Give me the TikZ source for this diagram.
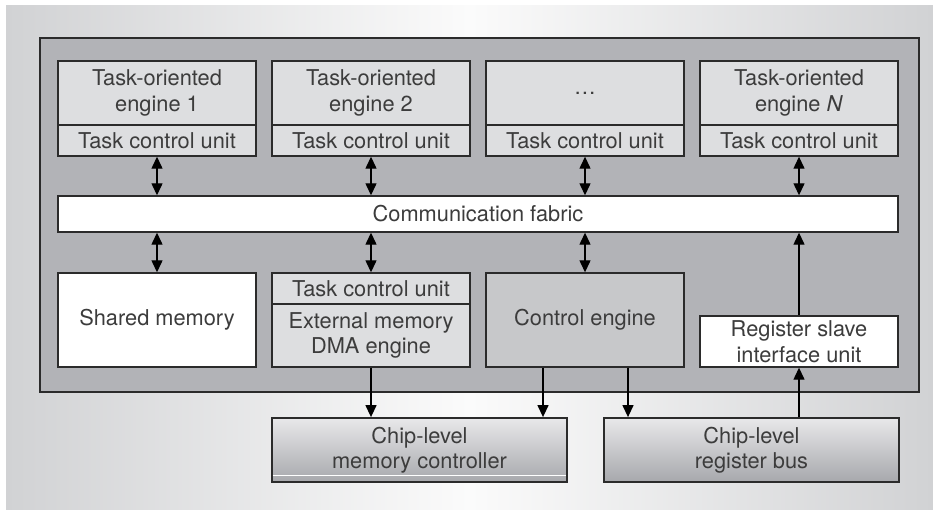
\documentclass[tikz,border=0pt]{standalone}
\usepackage{fontspec}
\setmainfont{TeX Gyre Heros}
\usetikzlibrary{arrows.meta}
\definecolor{bgedge}{HTML}{D1D2D4}
\definecolor{bgmid}{HTML}{FBFBFB}
\definecolor{chipfill}{HTML}{B2B3B7}
\definecolor{lightbox}{HTML}{DDDEE0}
\definecolor{midbox}{HTML}{C7C8CA}
\definecolor{inkline}{HTML}{2B2B2B}
\definecolor{inktext}{HTML}{3C3C3C}
\definecolor{busTop}{HTML}{E8E8EA}
\definecolor{busBot}{HTML}{A7A8AC}
\tikzset{
  unit/.style={draw=inkline, line width=1.4pt, minimum width=198pt, inner sep=0pt,
    align=center, text=inktext, font=\fontsize{21.8}{25.5}\selectfont},
  lightunit/.style={unit, fill=lightbox},
  whiteunit/.style={unit, fill=white},
  bus/.style={unit, minimum width=295pt, minimum height=64pt,
    top color=busTop, bottom color=busBot, line width=1.8pt},
  link/.style={draw=black, line width=1.3pt},
  both/.style={link, {Triangle[length=12pt,width=11pt]}-{Triangle[length=12pt,width=11pt]}},
  one/.style={link, -{Triangle[length=12pt,width=11pt]}},
}
\begin{document}
\begin{tikzpicture}[x=1pt, y=-1pt]
\useasboundingbox (0,0) rectangle (933,510);
% backdrop
\shade[left color=bgedge, right color=bgedge, middle color=bgmid] (6,6) rectangle (933,510);
% chip boundary
\draw[draw=inkline, line width=1.5pt, fill=chipfill] (40,38) rectangle (919,392);

% task-oriented engines with their control units
\node[lightunit, minimum height=64pt] (e1) at (157,93) {Task-oriented\\engine 1};
\node[lightunit, minimum height=31pt] (t1) at (157,140.5) {Task control unit};
\node[lightunit, minimum height=64pt] (e2) at (371,93) {Task-oriented\\engine 2};
\node[lightunit, minimum height=31pt] (t2) at (371,140.5) {Task control unit};
\node[lightunit, minimum height=64pt] (e3) at (585,93) {\dots};
\node[lightunit, minimum height=31pt] (t3) at (585,140.5) {Task control unit};
\node[lightunit, minimum height=64pt] (e4) at (799,93) {Task-oriented\\engine \textit{N}};
\node[lightunit, minimum height=31pt] (t4) at (799,140.5) {Task control unit};

% fabric
\node[whiteunit, minimum width=840pt, minimum height=36pt] (fab) at (478,214) {Communication fabric};

% lower row
\node[whiteunit, minimum height=94pt] (sm) at (157,320) {Shared memory};
\node[lightunit, minimum height=31pt] (t5) at (371,288.5) {Task control unit};
\node[lightunit, minimum height=63pt] (dma) at (371,335.5) {External memory\\DMA engine};
\node[unit, fill=midbox, minimum height=94pt] (ce) at (585,320) {Control engine};
\node[whiteunit, minimum height=51pt] (rs) at (799,341.5) {Register slave\\interface unit};

% chip-level blocks
\node[bus] (mc) at (419.5,450) {Chip-level\\memory controller};
\draw[white, line width=0.8pt] ([xshift=1.5pt,yshift=8pt]mc.south west) -- ([xshift=-1.5pt,yshift=8pt]mc.south east);
\node[bus] (rb) at (751.5,450) {Chip-level\\register bus};

% connections
\foreach \t in {t1,t2,t3,t4}
  \draw[both] (\t.south) -- (\t.south |- fab.north);
\draw[both] (fab.south -| sm.north) -- (sm.north);
\draw[both] (fab.south -| t5.north) -- (t5.north);
\draw[both] (fab.south -| ce.north) -- (ce.north);
\draw[one] (rs.north) -- (rs.north |- fab.south);
\draw[one] (dma.south) -- (dma.south |- mc.north);
\coordinate (ce1) at ([xshift=-42pt]ce.south);
\coordinate (ce2) at ([xshift=43pt]ce.south);
\draw[one] (ce1) -- (ce1 |- mc.north);
\draw[one] (ce2) -- (ce2 |- rb.north);
\draw[one] (rb.north -| rs.south) -- (rs.south);
\end{tikzpicture}
\end{document}
